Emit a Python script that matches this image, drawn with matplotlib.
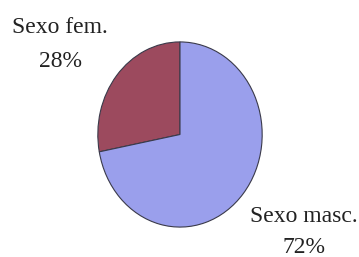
"""Pie chart: distribution by sex."""

import matplotlib
matplotlib.use("Agg")
import matplotlib.pyplot as plt

labels = ["Sexo fem.", "Sexo masc."]
shares = [28, 72]
colors = ["#9c4a5e", "#9a9fec"]

W, H = 359, 257
fig = plt.figure(figsize=(W / 100, H / 100), dpi=100)

# pie is drawn slightly taller than wide, like the scanned original
ax = fig.add_axes([97 / W, (H - 228) / H, 166 / W, 187 / H])
ax.pie(shares, colors=colors, startangle=90, counterclock=True,
       wedgeprops=dict(edgecolor="#3a3a4a", linewidth=0.8))
ax.set_aspect("auto")
ax.set_xlim(-1.01, 1.01)
ax.set_ylim(-1.01, 1.01)

font = dict(family="Liberation Serif", size=17, color="#222222",
            ha="center", va="baseline")

# label text placed beside the pie, as in the original
spots = [(60, 33, 67), (304, 222, 253)]
for name, val, (x, y1, y2) in zip(labels, shares, spots):
    fig.text(x / W, 1 - y1 / H, name, **font)
    fig.text(x / W, 1 - y2 / H, f"{val}%", **font)

fig.savefig("out.png", dpi=100)
